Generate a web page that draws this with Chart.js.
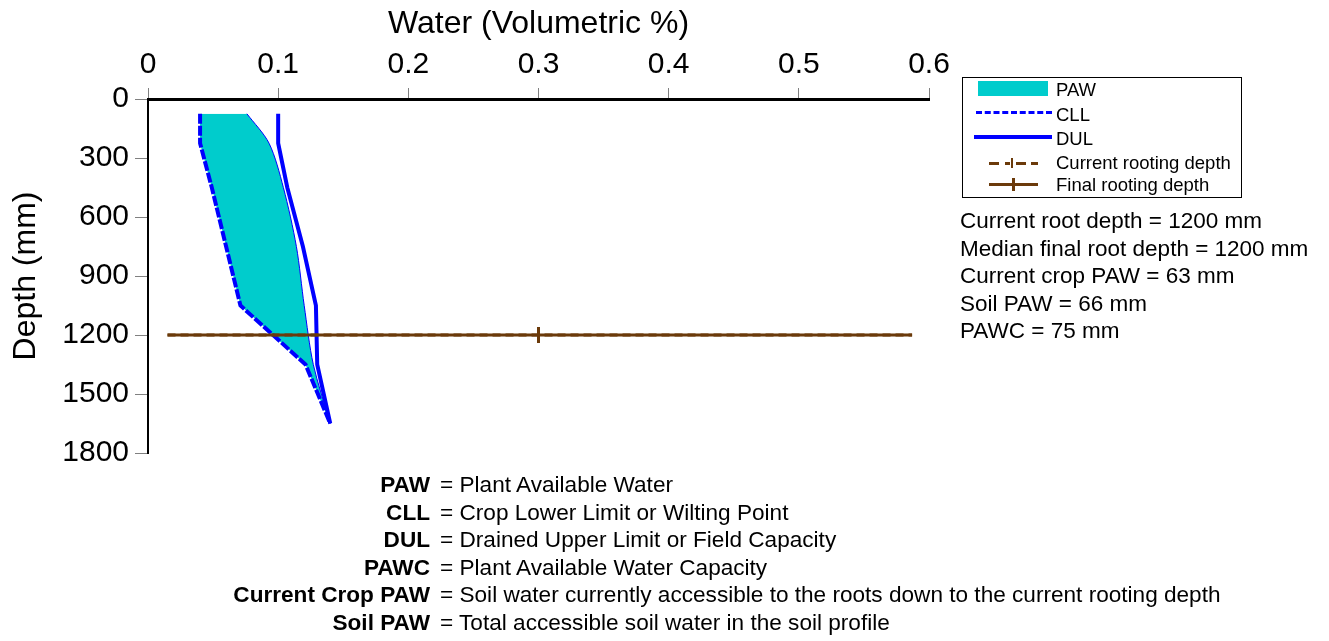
<!DOCTYPE html>
<html>
<head>
<meta charset="utf-8">
<script src="https://cdn.jsdelivr.net/npm/chart.js@4.4.1/dist/chart.umd.min.js"></script>
<style>
  html, body { margin:0; padding:0; background:#fff; }
  body { width:1329px; height:641px; position:relative; overflow:hidden; font-family:'Liberation Sans', Arial, sans-serif; color:#000; }
  #c { position:absolute; left:0; top:0; }
  #legend { position:absolute; left:962px; top:77px; width:280px; height:121px; border:1px solid #000; box-sizing:border-box; }
  .lg-text { position:absolute; font-size:18.5px; line-height:20px; white-space:nowrap; }
  .stats { position:absolute; left:960px; top:207px; font-size:22.5px; line-height:27.5px; white-space:nowrap; }
  .defs { position:absolute; left:0; top:471px; font-size:22.6px; line-height:27.6px; white-space:nowrap; }
  .defs .term { display:inline-block; width:430px; text-align:right; font-weight:bold; }
  .defs .rest { margin-left:10px; }
</style>
</head>
<body>
<canvas id="c" width="1329" height="641"></canvas>

<div id="legend"></div>
<div class="stats" id="stats"></div>
<div class="defs" id="defs"></div>

<script>
// ---- data ----
const depthMid   = [75, 225, 450, 750, 1050, 1350, 1650];          // mm (layer mid-points)
const cllValues  = [0.040, 0.040, 0.049, 0.060, 0.071, 0.121, 0.140]; // Crop Lower Limit
const dulValues  = [0.100, 0.100, 0.107, 0.119, 0.129, 0.130, 0.140]; // Drained Upper Limit
const swValues   = [0.076, 0.093, 0.104, 0.114, 0.120, 0.127, 0.140]; // current soil water (PAW right edge)
const rootDepthCurrent = 1200;
const rootDepthFinal   = 1200;
const rootLineX  = [0.015, 0.300, 0.587];
const xTickValues = [0, 0.1, 0.2, 0.3, 0.4, 0.5, 0.6];
const yTickValues = [0, 300, 600, 900, 1200, 1500, 1800];
const legendLabels = ['PAW', 'CLL', 'DUL', 'Current rooting depth', 'Final rooting depth'];
const statsLines = [
  'Current root depth = 1200 mm',
  'Median final root depth = 1200 mm',
  'Current crop PAW = 63 mm',
  'Soil PAW = 66 mm',
  'PAWC = 75 mm'
];
const defTerms = ['PAW', 'CLL', 'DUL', 'PAWC', 'Current Crop PAW', 'Soil PAW'];
const defTexts = [
  'Plant Available Water',
  'Crop Lower Limit or Wilting Point',
  'Drained Upper Limit or Field Capacity',
  'Plant Available Water Capacity',
  'Soil water currently accessible to the roots down to the current rooting depth',
  'Total accessible soil water in the soil profile'
];

const FONT = "'Liberation Sans', Arial, sans-serif";
const BLUE = '#0000FF';
const CYAN = '#00CCCC';
const BROWN = '#6B3A0A';

const pts = (xs, ys) => xs.map((v, i) => ({x: v, y: ys[i]}));

const datasets = [
  { label: 'Final rooting depth', data: rootLineX.map(v => ({x: v, y: rootDepthFinal})),
    borderColor: BROWN, borderWidth: 3, fill: false,
    pointStyle: 'line', rotation: 90, pointRadius: [0, 8, 0], pointBorderWidth: 3,
    pointBorderColor: BROWN, pointHoverRadius: 0 },
  { label: 'Current rooting depth', data: rootLineX.map(v => ({x: v, y: rootDepthCurrent})),
    borderColor: BROWN, borderWidth: 3, borderDash: [8, 5], fill: false, pointRadius: 0 },
  { label: 'DUL', data: pts(dulValues, depthMid), borderColor: BLUE, borderWidth: 4,
    fill: false, pointRadius: 0 },
  { label: 'CLL', data: pts(cllValues, depthMid), borderColor: BLUE, borderWidth: 4,
    borderDash: [10, 2], fill: false, pointRadius: 0 },
  { label: 'PAW', data: pts(swValues, depthMid), borderColor: BLUE, borderWidth: 1,
    backgroundColor: CYAN, fill: '-1', pointRadius: 0, tension: 0.3 }
];

new Chart(document.getElementById('c'), {
  type: 'line',
  data: { datasets },
  options: {
    indexAxis: 'y',
    responsive: false,
    animation: false,
    events: [],
    layout: { padding: { left: 0, top: 0, right: 400, bottom: 188 } },
    plugins: { legend: { display: false }, tooltip: { enabled: false } },
    scales: {
      x: {
        type: 'linear', position: 'top', min: 0, max: 0.6,
        afterBuildTicks: s => { s.ticks = xTickValues.map(v => ({value: v})); },
        afterFit: s => { s.height = 99; },
        ticks: { color: '#000', font: { family: FONT, size: 30 }, padding: 5, maxRotation: 0,
                 callback: v => String(+Number(v).toFixed(1)) },
        grid: { drawOnChartArea: false, drawTicks: true, tickLength: 11, color: '#808080' },
        border: { color: '#000', width: 3 },
        title: { display: true, text: 'Water (Volumetric %)', color: '#000',
                 font: { family: FONT, size: 32 }, padding: { top: 5, bottom: 0 } }
      },
      y: {
        type: 'linear', position: 'left', reverse: true, min: 0, max: 1800,
        afterBuildTicks: s => { s.ticks = yTickValues.map(v => ({value: v})); },
        afterFit: s => { s.width = 148; },
        ticks: { color: '#000', font: { family: FONT, size: 30 }, padding: 6,
                 callback: v => String(Math.round(v)) },
        grid: { drawOnChartArea: false, drawTicks: true, tickLength: 13, color: '#808080' },
        border: { color: '#000', width: 2 },
        title: { display: true, text: 'Depth (mm)', color: '#000',
                 font: { family: FONT, size: 32 }, padding: { top: 7, bottom: 0 } }
      }
    }
  }
});

// ---- legend (HTML) ----
(function () {
  const lg = document.getElementById('legend');
  const ox = 962, oy = 77;
  function el(css) { const d = document.createElement('div'); d.style.position = 'absolute'; Object.assign(d.style, css); lg.appendChild(d); return d; }
  // PAW swatch
  el({ left: (977 - ox) + 'px', top: (80 - oy) + 'px', width: '70px', height: '15px', background: CYAN });
  // CLL dashed
  el({ left: (975 - ox) + 'px', top: (110 - oy) + 'px', width: '76px', height: '0', borderTop: '3px dashed ' + BLUE });
  // DUL solid
  el({ left: (973 - ox) + 'px', top: (134 - oy) + 'px', width: '78px', height: '4px', background: BLUE });
  // Current rooting depth dashed with tick
  const segs = [[988, 998], [1004, 1009], [1015, 1025], [1030, 1037]];
  segs.forEach(s => el({ left: (s[0] - ox) + 'px', top: (161 - oy) + 'px', width: (s[1] - s[0]) + 'px', height: '3px', background: BROWN }));
  el({ left: (1010 - ox) + 'px', top: (157 - oy) + 'px', width: '2px', height: '10px', background: BROWN });
  // Final rooting depth solid with tick
  el({ left: (988 - ox) + 'px', top: (182 - oy) + 'px', width: '49px', height: '3px', background: BROWN });
  el({ left: (1011 - ox) + 'px', top: (177 - oy) + 'px', width: '3px', height: '13px', background: BROWN });
  const ys = [89, 114, 138, 162, 184];
  legendLabels.forEach((t, i) => {
    const d = document.createElement('div');
    d.className = 'lg-text';
    d.textContent = t;
    d.style.left = (1055 - ox) + 'px';
    d.style.top = (ys[i] - 10 - oy) + 'px';
    lg.appendChild(d);
  });
})();

// ---- stats ----
document.getElementById('stats').innerHTML = statsLines.map(s => '<div>' + s + '</div>').join('');

// ---- definitions ----
document.getElementById('defs').innerHTML = defTerms.map((t, i) =>
  '<div><span class="term">' + t + '</span><span class="rest">= ' + defTexts[i] + '</span></div>').join('');
</script>
</body>
</html>
